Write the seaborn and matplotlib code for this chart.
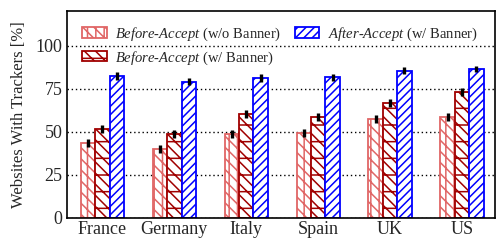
import matplotlib
matplotlib.use("Agg")
import matplotlib.pyplot as plt
import seaborn as sns
import pandas as pd
import numpy as np
from matplotlib.container import BarContainer
from matplotlib.patches import Patch

countries = ["France", "Germany", "Italy", "Spain", "UK", "US"]
before_wo = [43.7, 40.0, 48.7, 49.2, 57.5, 58.8]
before_w = [51.4, 48.6, 60.5, 58.8, 66.9, 72.8]
after_w = [82.3, 79.0, 81.0, 81.5, 85.5, 86.3]
err_wo = [2.3, 2.3, 2.3, 2.3, 2.3, 2.3]
err_w = [2.3, 2.3, 2.3, 2.3, 2.3, 2.3]
err_after = [2.2, 2.0, 2.2, 2.2, 1.8, 1.8]
series = ["Before-Accept (w/o Banner)", "Before-Accept (w/ Banner)", "After-Accept (w/ Banner)"]
labels = [r"$\mathit{Before}$-$\mathit{Accept}$ (w/o Banner)",
          r"$\mathit{Before}$-$\mathit{Accept}$ (w/ Banner)",
          r"$\mathit{After}$-$\mathit{Accept}$ (w/ Banner)"]

sns.set_style("white")
plt.rcParams["font.family"] = ["Liberation Serif", "DejaVu Serif"]
plt.rcParams["mathtext.fontset"] = "custom"
plt.rcParams["mathtext.it"] = "Liberation Serif:italic"
plt.rcParams["mathtext.rm"] = "Liberation Serif"
plt.rcParams["hatch.linewidth"] = 1.1

df = pd.DataFrame({
    "country": countries * 3,
    "series": sum([[s] * len(countries) for s in series], []),
    "value": before_wo + before_w + after_w,
})
errs = [err_wo, err_w, err_after]

colors = ["#e06666", "#a00000", "#0000ff"]
hatches = ["||\\\\\\", "\\\\\\-", "////"]

fig = plt.figure(figsize=(4.98, 2.4), dpi=100)
ax = fig.add_axes([0.135, 0.092, 0.859, 0.862])
sns.barplot(data=df, x="country", y="value", hue="series", hue_order=series,
            width=0.6, ax=ax, palette=["white"] * 3, errorbar=None, legend=False)

bar_conts = [c for c in ax.containers if isinstance(c, BarContainer)]
for ci, cont in enumerate(bar_conts):
    for bi, patch in enumerate(cont.patches):
        patch.set_facecolor("white")
        patch.set_edgecolor(colors[ci])
        patch.set_hatch(hatches[ci])
        patch.set_linewidth(1.3)
        cx = patch.get_x() + patch.get_width() / 2
        ax.errorbar(cx, patch.get_height(), yerr=errs[ci][bi], fmt="none",
                    ecolor="black", elinewidth=2.4, capsize=0, zorder=5)

ax.set_ylim(0, 120)
ax.set_xlim(-0.49, 5.46)
ax.set_yticks([0, 25, 50, 75, 100])
ax.yaxis.grid(True, linestyle=(0, (1, 2)), color="black", linewidth=1)
ax.set_axisbelow(True)
ax.set_xlabel("")
ax.set_ylabel("Websites With Trackers [%]", fontsize=12, labelpad=6)
ax.tick_params(axis="both", labelsize=13, direction="in", length=3, color="black")
ax.tick_params(axis="x", pad=2)
for s in ax.spines.values():
    s.set_visible(True)
    s.set_color("black")
    s.set_linewidth(1.2)

handles = [Patch(facecolor="white", edgecolor=colors[i], hatch=hatches[i], linewidth=1.3)
           for i in range(3)]
ax.legend(handles, labels, ncol=2, loc="upper left", bbox_to_anchor=(0.01, 0.98),
          frameon=False, fontsize=10.5, handlelength=1.7, handleheight=0.7,
          columnspacing=0.9, handletextpad=0.6, labelspacing=0.45, borderaxespad=0.3)

fig.savefig("out.png", dpi=100)
